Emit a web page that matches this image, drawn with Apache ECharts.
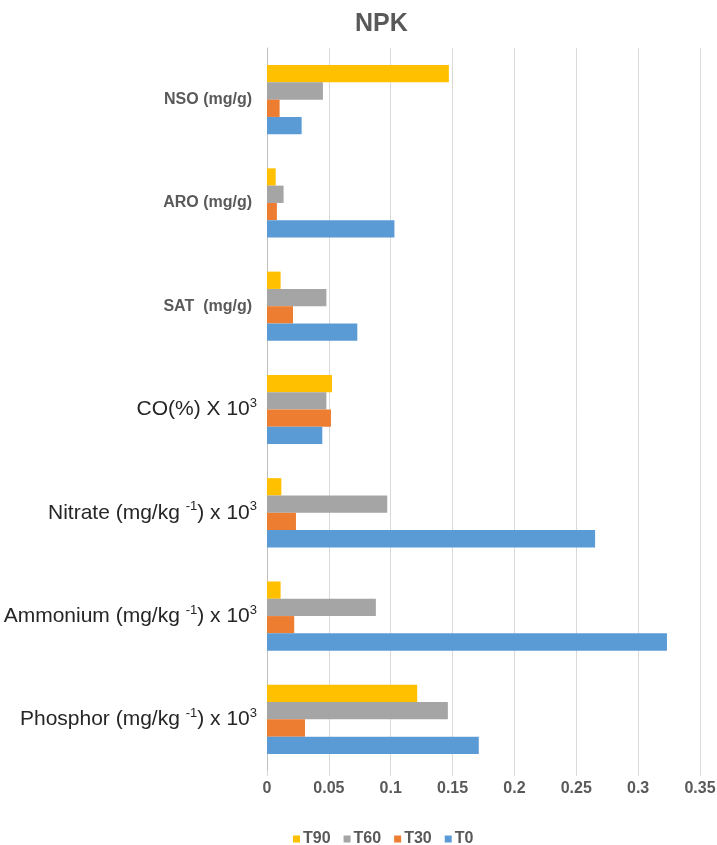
<!DOCTYPE html>
<html>
<head>
<meta charset="utf-8">
<script src="https://cdn.jsdelivr.net/npm/echarts@6/dist/echarts.min.js"></script>
<style>
  html, body { margin: 0; padding: 0; background: #ffffff; }
  #chart { width: 717px; height: 845px; }
</style>
</head>
<body>
<div id="chart"></div>
<script>
// Categories listed top to bottom
const categories = ['NSO', 'ARO', 'SAT', 'CO', 'Nitrate', 'Ammonium', 'Phosphor'];

// Series values per category (same order as categories)
const t90 = [0.147, 0.007, 0.011, 0.0525, 0.0116, 0.011, 0.1214];
const t60 = [0.0452, 0.0134, 0.048, 0.048, 0.0972, 0.088, 0.1462];
const t30 = [0.0102, 0.008, 0.021, 0.0517, 0.0234, 0.022, 0.0307];
const t0  = [0.028, 0.103, 0.073, 0.0447, 0.2652, 0.3233, 0.1712];

const seriesNames = ['T90', 'T60', 'T30', 'T0'];
const seriesColors = ['#FFC000', '#A5A5A5', '#ED7D31', '#5B9BD5'];

// Axis label text for each category (rich-text markup)
const categoryLabels = {
  'NSO': '{b|NSO (mg/g)}',
  'ARO': '{b|ARO (mg/g)}',
  'SAT': '{b|SAT  (mg/g)}',
  'CO': '{n|CO(%) X 10}{sup|3}',
  'Nitrate': '{n|Nitrate (mg/kg }{sup|-1}{n|) x 10}{sup|3}',
  'Ammonium': '{n|Ammonium (mg/kg }{sup|-1}{n|) x 10}{sup|3}',
  'Phosphor': '{n|Phosphor (mg/kg }{sup|-1}{n|) x 10}{sup|3}'
};

const chart = echarts.init(document.getElementById('chart'), null, { renderer: 'canvas' });

const seriesData = [t90, t60, t30, t0];

chart.setOption({
  backgroundColor: '#ffffff',
  animation: false,
  title: {
    text: 'NPK',
    left: 350,
    top: 7,
    textStyle: {
      fontFamily: 'Liberation Sans',
      fontSize: 25,
      fontWeight: 'bold',
      color: '#595959'
    }
  },
  legend: {
    data: seriesNames,
    top: 826,
    left: 288,
    icon: 'rect',
    itemWidth: 7,
    itemHeight: 7,
    itemGap: 13,
    textStyle: {
      fontFamily: 'Liberation Sans',
      fontSize: 16,
      fontWeight: 'bold',
      color: '#595959',
      padding: [0, 0, 0, -2]
    }
  },
  grid: {
    left: 267,
    right: 17,
    top: 48,
    bottom: 74,
    containLabel: false,
    outerBoundsMode: 'none'
  },
  xAxis: {
    type: 'value',
    min: 0,
    max: 0.35,
    interval: 0.05,
    axisLine: { show: false },
    axisTick: { show: true, length: 5, lineStyle: { color: '#D9D9D9' } },
    splitLine: { show: true, lineStyle: { color: '#D9D9D9', width: 1 } },
    axisLabel: {
      margin: 10,
      fontFamily: 'Liberation Sans',
      fontSize: 16,
      fontWeight: 'bold',
      color: '#595959',
      formatter: function (v) { return String(parseFloat(v.toFixed(2))); }
    }
  },
  yAxis: {
    type: 'category',
    inverse: true,
    data: categories,
    axisLine: { show: true, lineStyle: { color: '#BFBFBF' } },
    axisTick: { show: false },
    axisLabel: {
      margin: 10,
      formatter: function (v) { return categoryLabels[v]; },
      rich: {
        b: {
          fontFamily: 'Liberation Sans',
          fontSize: 16,
          fontWeight: 'bold',
          color: '#595959',
          padding: [0, 5, 0, 0]
        },
        n: {
          fontFamily: 'Liberation Sans',
          fontSize: 21,
          color: '#262626',
          lineHeight: 25
        },
        sup: {
          fontFamily: 'Liberation Sans',
          fontSize: 13,
          color: '#262626',
          verticalAlign: 'top',
          lineHeight: 14
        }
      }
    }
  },
  series: seriesNames.map(function (name, i) {
    return {
      name: name,
      type: 'bar',
      data: seriesData[i],
      barCategoryGap: '33%',
      barGap: '0%',
      itemStyle: { color: seriesColors[i] }
    };
  })
});
</script>
</body>
</html>
